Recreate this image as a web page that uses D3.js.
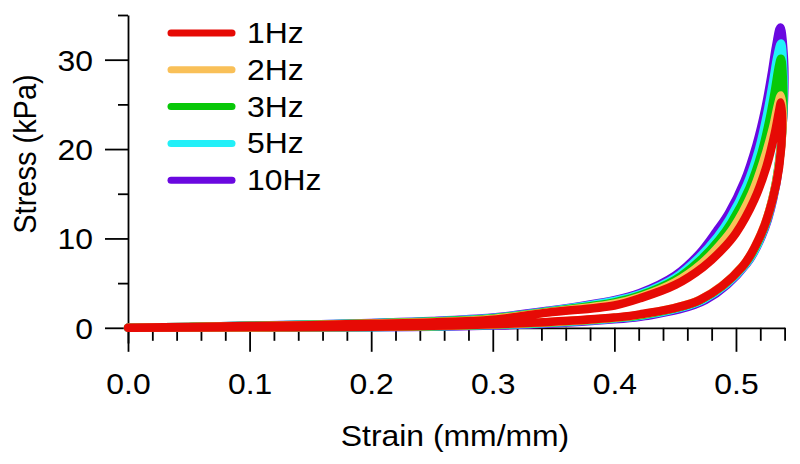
<!DOCTYPE html>
<html><head><meta charset="utf-8">
<script src="https://cdn.jsdelivr.net/npm/d3@7"></script>
<style>
body{margin:0;background:#fff}
svg{display:block}
text{font-family:"Liberation Sans",Arial,Helvetica,sans-serif;fill:#000}
</style>
</head><body>
<svg id="c" width="800" height="464"></svg>
<script>
const seriesNames = ["1Hz", "2Hz", "3Hz", "5Hz", "10Hz"];
const seriesColors = ["#e60a05", "#f9c058", "#08c808", "#22f0f8", "#6a08e0"];
const xMajorTicks = [0, 0.1, 0.2, 0.3, 0.4, 0.5];
const xMinorTicks = [0.02,0.04,0.06,0.08,0.12,0.14,0.16,0.18,0.22,0.24,0.26,0.28,0.32,0.34,0.36,0.38,0.42,0.44,0.46,0.48,0.52,0.54];
const yMajorTicks = [0, 10, 20, 30];
const yMinorTicks = [5, 15, 25, 35];

// loading branches [strain, stress kPa]
const load1Hz = [[0,0],[0.05,0.1],[0.1,0.2],[0.15,0.3],[0.2,0.45],[0.25,0.6],[0.3,0.9],[0.345,1.7],[0.4,2.5],[0.421,3.3],[0.45,4.8],[0.473,6.8],[0.489,8.8],[0.5,10.6],[0.515,14.3],[0.525,18.0],[0.532,21.8],[0.5355,24.3],[0.537,25.2]];
const load2Hz = [[0,0],[0.05,0.1],[0.1,0.2],[0.15,0.32],[0.2,0.48],[0.25,0.65],[0.3,1.0],[0.345,1.75],[0.4,2.7],[0.421,3.45],[0.45,5.1],[0.472,7.2],[0.487,9.3],[0.498,11.2],[0.513,15.0],[0.523,18.8],[0.5305,22.4],[0.5345,24.9],[0.537,26.0]];
const load3Hz = [[0,0],[0.05,0.1],[0.1,0.22],[0.15,0.34],[0.2,0.5],[0.25,0.7],[0.3,1.05],[0.345,1.8],[0.4,2.85],[0.421,3.6],[0.45,5.35],[0.471,7.6],[0.486,9.8],[0.496,11.7],[0.511,15.6],[0.521,19.5],[0.5275,23.2],[0.532,26.5],[0.535,29.0],[0.537,30.1]];
const load5Hz = [[0,0],[0.05,0.1],[0.1,0.23],[0.15,0.36],[0.2,0.52],[0.25,0.73],[0.3,1.1],[0.345,1.85],[0.4,3.0],[0.421,3.75],[0.45,5.6],[0.47,7.9],[0.485,10.2],[0.495,12.2],[0.509,16.0],[0.519,20.0],[0.5255,23.8],[0.5305,27.5],[0.534,30.3],[0.537,31.8]];
const load10Hz = [[0,0],[0.05,0.1],[0.1,0.24],[0.15,0.38],[0.2,0.55],[0.25,0.76],[0.3,1.15],[0.345,1.9],[0.4,3.1],[0.421,3.9],[0.45,5.85],[0.47,8.3],[0.484,10.8],[0.494,12.8],[0.507,16.4],[0.517,20.5],[0.524,24.4],[0.5295,28.5],[0.533,31.5],[0.5365,33.6]];

// unloading branches [strain, stress kPa]
const unload1Hz = [[0.538,22.5],[0.5355,18.0],[0.530,14.3],[0.521,10.6],[0.505,6.8],[0.47,3.1],[0.421,1.5],[0.4,1.15],[0.345,0.65],[0.3,0.4],[0.25,0.22],[0.2,0.12],[0.1,0.05],[0,0]];
const unload2Hz = [[0.5385,23.5],[0.536,19.0],[0.531,15.0],[0.522,11.0],[0.506,7.0],[0.471,3.2],[0.422,1.5],[0.4,1.12],[0.345,0.62],[0.3,0.38],[0.25,0.2],[0.2,0.11],[0.1,0.04],[0,0]];
const unload3Hz = [[0.5388,27.0],[0.5385,23.0],[0.536,19.0],[0.531,15.0],[0.5225,11.0],[0.507,7.1],[0.472,3.2],[0.423,1.45],[0.4,1.1],[0.345,0.6],[0.3,0.35],[0.25,0.18],[0.2,0.1],[0.1,0.04],[0,0]];
const unload5Hz = [[0.539,28.5],[0.539,24.5],[0.5365,20.0],[0.532,15.5],[0.523,11.0],[0.508,7.1],[0.473,3.15],[0.424,1.4],[0.4,1.05],[0.345,0.55],[0.3,0.3],[0.25,0.15],[0.2,0.08],[0.1,0.03],[0,0]];
const unload10Hz = [[0.5395,30.0],[0.5395,25.5],[0.537,20.5],[0.533,16.0],[0.524,11.2],[0.509,7.2],[0.475,3.1],[0.425,1.3],[0.4,0.95],[0.345,0.45],[0.3,0.25],[0.25,0.12],[0.2,0.06],[0.1,0.02],[0,0]];

const loads = [load1Hz, load2Hz, load3Hz, load5Hz, load10Hz];
const unloads = [unload1Hz, unload2Hz, unload3Hz, unload5Hz, unload10Hz];

const svg = d3.select("#c");
const FS = 29, SX = 1.1;
const x = d3.scaleLinear().domain([0, 0.54]).range([128, 784.6]);
const y = d3.scaleLinear().domain([-1.7, 35]).range([343, 15]);

// Y axis
const gy = svg.append("g").attr("transform", `translate(${x(0)},0)`)
  .call(d3.axisLeft(y).tickValues(yMajorTicks).tickSize(23).tickSizeOuter(0).tickFormat(d3.format("d")));
svg.append("g").attr("transform", `translate(${x(0)},0)`)
  .call(d3.axisLeft(y).tickValues(yMinorTicks).tickSize(10).tickSizeOuter(0).tickFormat(""))
  .select(".domain").remove();
gy.selectAll(".tick text")
  .attr("x", null).attr("dy", null)
  .attr("transform", "translate(-35,10.5) scale(" + SX + ",1)")
  .attr("text-anchor", "end");

// X axis
const gx = svg.append("g").attr("transform", `translate(0,${y(0)})`)
  .call(d3.axisBottom(x).tickValues(xMajorTicks).tickSize(24).tickSizeOuter(0).tickFormat(d3.format(".1f")));
svg.append("g").attr("transform", `translate(0,${y(0)})`)
  .call(d3.axisBottom(x).tickValues(xMinorTicks).tickSize(13).tickSizeOuter(0).tickFormat(""))
  .select(".domain").remove();
gx.selectAll(".tick text")
  .attr("y", null).attr("dy", null)
  .attr("transform", "translate(0,66) scale(" + SX + ",1)")
  .attr("text-anchor", "middle");

svg.selectAll(".tick text").attr("font-size", FS).attr("font-family", '"Liberation Sans",Arial,sans-serif').attr("fill", "#000");
svg.selectAll(".tick line").attr("stroke", "#000").attr("stroke-width", 1.8);
svg.selectAll(".domain").attr("stroke", "#000").attr("stroke-width", 1.8);

// Axis titles
svg.append("text").attr("transform", `translate(455,446) scale(${SX},1)`)
  .attr("text-anchor", "middle").attr("font-size", FS).text("Strain (mm/mm)");
svg.append("text").attr("transform", `translate(36,154) scale(${SX},1) rotate(-90)`)
  .attr("text-anchor", "middle").attr("font-size", FS).text("Stress (kPa)");

// Curves (drawn on top of axes), 10Hz first, 1Hz last
const line = d3.line().x(d => x(d[0])).y(d => y(d[1])).curve(d3.curveCatmullRom.alpha(0.5));
const order = [4, 3, 2, 1, 0];
svg.append("g").selectAll("path").data(order).join("path")
  .attr("d", i => line(loads[i].concat(unloads[i])))
  .attr("fill", "none")
  .attr("stroke", i => seriesColors[i])
  .attr("stroke-width", 8.5)
  .attr("stroke-linejoin", "round")
  .attr("stroke-linecap", "round");

// Legend
const lg = svg.append("g");
seriesNames.forEach((n, i) => {
  const ly = 33 + i * 36.8;
  lg.append("line").attr("x1", 171).attr("x2", 232).attr("y1", ly).attr("y2", ly)
    .attr("stroke", seriesColors[i]).attr("stroke-width", 7).attr("stroke-linecap", "round");
  lg.append("text").attr("transform", `translate(247,${ly + 10}) scale(${SX},1)`)
    .attr("font-size", FS).text(n);
});
</script>
</body></html>
